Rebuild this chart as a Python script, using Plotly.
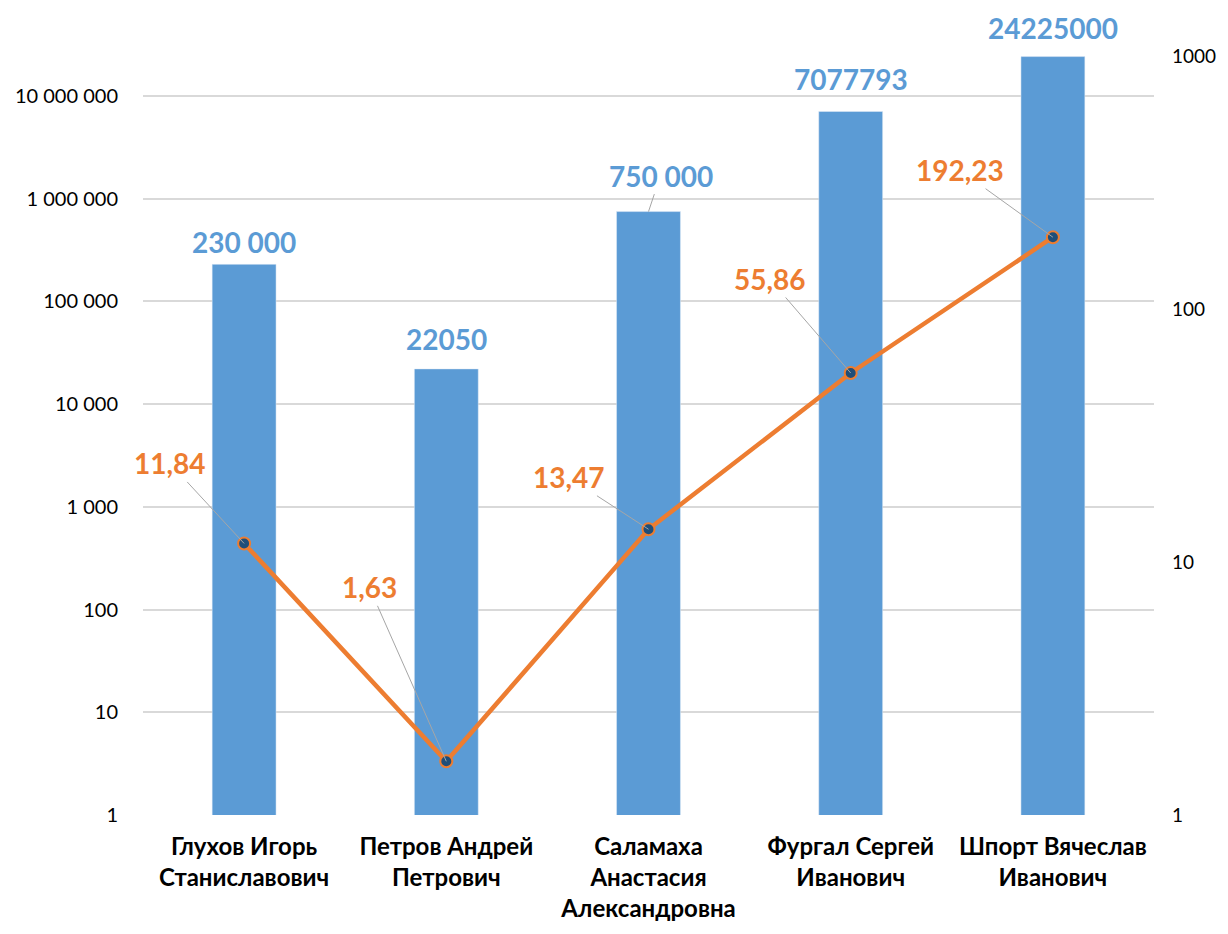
import math
import plotly.graph_objects as go

categories = [
    "Глухов Игорь<br>Станиславович",
    "Петров Андрей<br>Петрович",
    "Саламаха<br>Анастасия<br>Александровна",
    "Фургал Сергей<br>Иванович",
    "Шпорт Вячеслав<br>Иванович",
]
bar_values = [230000, 22050, 750000, 7077793, 24225000]
bar_labels = ["230 000", "22050", "750 000", "7077793", "24225000"]
line_values = [11.84, 1.63, 13.47, 55.86, 192.23]
line_labels = ["11,84", "1,63", "13,47", "55,86", "192,23"]

left_ticks = [1, 10, 100, 1000, 10000, 100000, 1000000, 10000000]
left_ticktext = ["1", "10", "100", "1 000", "10 000", "100 000", "1 000 000", "10 000 000"]
right_ticks = [1, 10, 100, 1000]

BLUE = "#5B9BD5"
ORANGE = "#ED7D31"
FONT = "Lato"

fig = go.Figure()
fig.add_trace(go.Bar(x=categories, y=bar_values, marker_color=BLUE, width=0.316,
                     hoverinfo="skip", showlegend=False))
fig.add_trace(go.Scatter(x=categories, y=line_values, yaxis="y2", mode="lines+markers",
                         line=dict(color=ORANGE, width=4.5),
                         marker=dict(size=12, color="#1F4E79", line=dict(color=ORANGE, width=2)),
                         hoverinfo="skip", showlegend=False))

# bar value labels (pixel offset above the bar top)
bar_offsets = [(0, 22), (0, 30), (12, 36), (0, 32), (0, 29)]
for i, (v, t, (dx, dy)) in enumerate(zip(bar_values, bar_labels, bar_offsets)):
    arrow = dx != 0
    fig.add_annotation(x=i, y=math.log10(v), xref="x", yref="y", text=f"<b>{t}</b>",
                       font=dict(family=FONT, size=28, color=BLUE),
                       showarrow=arrow, arrowhead=0, arrowcolor="#A6A6A6", arrowwidth=1,
                       ax=dx, ay=-dy, standoff=0,
                       yshift=0 if arrow else dy)

# line value labels with leader lines
line_offsets = [(-74, -80), (-77, -174), (-80, -52), (-81, -94), (-93, -67)]
for i, (v, t, (dx, dy)) in enumerate(zip(line_values, line_labels, line_offsets)):
    fig.add_annotation(x=i, y=math.log10(v), xref="x", yref="y2", text=f"<b>{t}</b>",
                       font=dict(family=FONT, size=28, color=ORANGE),
                       showarrow=True, arrowhead=0, arrowcolor="#A6A6A6", arrowwidth=1,
                       ax=dx, ay=dy, standoff=0)

# page body adds an 8px margin, so the figure is sized to the remaining space
fig.update_layout(
    width=1212, height=918,
    margin=dict(l=135, r=66, t=48, b=111),
    paper_bgcolor="white", plot_bgcolor="white",
    font=dict(family=FONT, size=20, color="#000000"),
    xaxis=dict(range=[-0.5, 4.5], showgrid=False, showline=False, ticks="", automargin=False,
               ticklabelstandoff=15,
               tickfont=dict(family=FONT, size=24, color="#000000", weight="bold")),
    yaxis=dict(type="log", range=[0, 7.39], tickvals=left_ticks, ticktext=left_ticktext,
               showgrid=True, gridcolor="#D9D9D9", gridwidth=2, zeroline=False,
               showline=False, ticks="", ticklabelstandoff=24, automargin=False),
    yaxis2=dict(type="log", range=[0, 3], tickvals=right_ticks, ticktext=["1", "10", "100", "1000"],
                overlaying="y", side="right", showgrid=False, zeroline=False,
                showline=False, ticks="", ticklabelstandoff=17, automargin=False,
                tickfont=dict(family=FONT, size=19, color="#000000")),
)

fig.write_html("out.html")
